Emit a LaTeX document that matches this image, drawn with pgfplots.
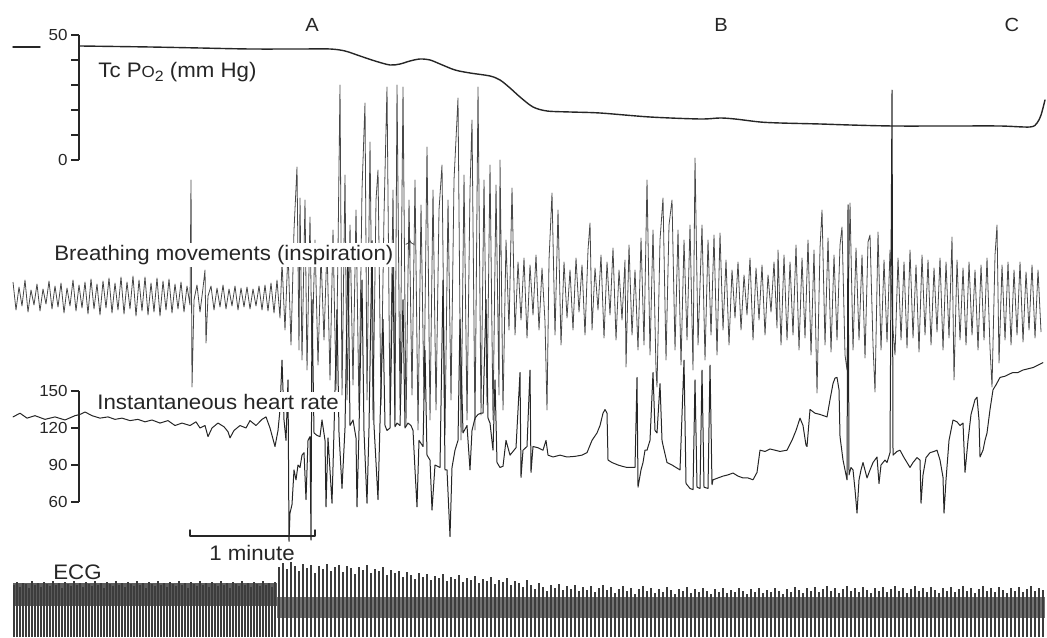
\documentclass[border=0pt]{standalone}
\usepackage{pgfplots}
\pgfplotsset{compat=1.18}
\usepackage{fontspec}
\setmainfont{Liberation Sans}[FakeStretch=1.06]
\definecolor{ink}{gray}{0.15}
\pgfplotsset{
  base/.style={scale only axis, width=523.5pt, height=318.5pt, xmin=0, xmax=1047,
    ymin=0, ymax=637, hide axis, clip=false, at={(0pt,0pt)}, anchor=south west},
  scalebar/.style={scale only axis, width=484pt, xmin=79, xmax=1047, clip=false,
    anchor=south west, axis x line=none, axis y line*=left, tick align=outside,
    major tick length=4pt, axis line style={ink, line width=0.7pt},
    ytick style={ink, line width=0.7pt},
    yticklabel style={font=\fontsize{8}{9}\selectfont, text=ink, inner sep=1.5pt}},
  trace/.style={ink, line join=round, line cap=round}
}
\begin{document}
\begin{tikzpicture}
\useasboundingbox (0,0) rectangle (523.5pt,318.5pt);
% ---------------- ECG (heights above the bottom edge, pixel units)
\begin{axis}[base]
\addplot[fill=ink!75, draw=none] coordinates {(13,31) (277,31) (277,54) (13,54)} -- cycle;
\addplot[fill=ink!65, draw=none] coordinates {(277,19) (1045,19) (1045,40) (277,40)} -- cycle;
\addplot[ycomb, ink!90, line width=0.8pt] coordinates {
(14,52)(17,55)(20,50)(23,54)(26,53)(29,49)(32,56)(35,52)(38,54)(41,50)(44,55)(47,53)(50,51)(53,56)(56,52)(59,54)(62,49)(65,55)(68,53)(71,51)(74,56)(77,52)(80,54)(83,50)(86,55)(89,53)(92,51)(95,56)(98,52)(101,54)(104,49)(107,55)(110,53)(113,51)(116,56)(119,52)(122,54)(125,50)(128,55)(131,53)(134,51)(137,56)(140,52)(143,54)(146,49)(149,55)(152,53)(155,51)(158,56)(161,52)(164,54)(167,50)(170,55)(173,53)(176,51)(179,56)(182,52)(185,54)(188,49)(191,55)(194,53)(197,51)(200,56)(203,52)(206,54)(209,50)(212,55)(215,53)(218,51)(221,56)(224,52)(227,54)(230,49)(233,55)(236,53)(239,51)(242,56)(245,52)(248,54)(251,50)(254,55)(257,53)(260,51)(263,56)(266,52)(269,54)(272,50)(275,55)
(279,70)(283,74)(287,68)(291,75)(295,71)(299,66)(303,73)(307,69)(311,72)(315,64)(319,71)(323,68)(327,73)(331,66)(335,70)(339,72)(343,65)(347,71)(351,69)(355,63)(359,70)(363,67)(367,72)(371,64)(375,68)(379,66)(383,70)(387,62)(391,67)(395,64)(399,66)(403,60)(407,65)(411,62)(415,58)(419,64)(423,60)(427,63)(431,57)(435,61)(439,59)(443,63)(447,56)(451,60)(455,58)(459,62)(463,55)(467,59)(471,57)(475,61)(479,54)(483,58)(487,56)(491,60)(495,53)(499,57)(503,55)(507,59)(511,52)(515,56)(519,54)(523,50)(527,57)(531,52)(535,48)(539,54)(543,50)(547,46)(551,52)(555,49)(559,53)(563,47)(567,51)(571,48)(575,52)(579,46)(583,50)(587,47)(591,51)(595,45)(599,49)(603,52)(607,47)(611,50)(615,44)(619,48)(623,51)(627,46)(631,49)(635,43)(639,48)(643,51)(647,46)(651,49)(655,44)(659,48)(663,45)(667,50)(671,47)(675,43)(679,48)(683,46)(687,50)(691,44)(695,48)(699,45)(703,49)(707,46)(711,43)(715,48)(719,45)(723,49)(727,44)(731,47)(735,45)(739,49)(743,46)(747,43)(751,48)(755,45)(759,49)(763,44)(767,47)(771,45)(775,49)(779,46)(783,43)(787,48)(791,45)(795,50)(799,47)(803,44)(807,49)(811,46)(815,50)(819,45)(823,48)(827,51)(831,46)(835,49)(839,44)(843,48)(847,51)(851,46)(855,49)(859,45)(863,50)(867,47)(871,44)(875,49)(879,46)(883,50)(887,45)(891,48)(895,51)(899,46)(903,49)(907,44)(911,48)(915,51)(919,46)(923,49)(927,45)(931,50)(935,47)(939,44)(943,49)(947,46)(951,50)(955,45)(959,48)(963,51)(967,46)(971,49)(975,44)(979,48)(983,51)(987,46)(991,49)(995,45)(999,50)(1003,47)(1007,44)(1011,49)(1015,46)(1019,50)(1023,45)(1027,48)(1031,51)(1035,46)(1039,49)(1043,47)
};
\end{axis}
% ---------------- Tc PO2 (mm Hg)
\begin{axis}[scalebar, at={(39.5pt,238.5pt)}, height=62.5pt, ymin=0, ymax=50,
  ytick={0,10,20,30,40,50}, yticklabels={0,,,,,50}]
\addplot[trace, line width=0.7pt] coordinates {(13,45.2) (40,45.2)};
\addplot[trace, line width=0.7pt, smooth, tension=0.5] coordinates {
(80,45.6)(150,45.2)(200,44.8)(250,44.4)(300,44.4)(330,44.4)(345,43.6)(360,41.6)(375,39.6)(390,38)(400,38.4)(410,39.6)(420,40.4)(430,40)(440,38.4)(455,36)(470,34.8)(490,33.6)(500,32)(510,28.8)(520,25.2)(533,21.2)(547,19.6)(570,19.2)(600,18.8)(650,17.2)(700,16.4)(720,16.8)(735,16.4)(760,15.2)(780,14.8)(820,14.4)(850,14)(893,13.6)(950,13.6)(1000,13.6)(1030,13.2)(1037,14.8)(1041,18)(1045,24)};
\end{axis}
% ---------------- Breathing movements (pixel rows, top = 0)
\begin{axis}[base, y dir=reverse]
\addplot[ink!85, line join=round, line width=0.4pt] coordinates {
(13,282)(16,310)(19,287)(22,306)(25,280)(28,312)(31,290)(34,305)(37,284)(40,311)(43,289)(46,304)(49,281)(52,309)(55,286)(58,307)(61,283)(64,313)(67,288)(70,306)(73,280)(76,311)(79,285)(82,308)(85,282)(88,314)(91,279)(94,309)(97,284)(100,315)(103,281)(106,308)(109,278)(112,313)(115,283)(118,310)(121,277)(124,314)(127,282)(130,309)(133,276)(136,316)(139,280)(142,311)(145,277)(148,315)(151,283)(154,312)(157,278)(160,316)(163,281)(166,310)(169,279)(172,313)(175,284)(178,309)(181,282)(184,312)(187,286)(190,305)(191,180)(192,387)(194,300)(197,285)(200,312)(203,288)(205,270)(206,343)(208,296)(211,286)(214,310)(217,288)(220,307)(223,285)(226,309)(229,289)(232,306)(235,286)(238,310)(241,288)(244,307)(247,287)(250,309)(253,289)(256,306)(259,286)(262,310)(265,285)(268,311)(271,283)(274,313)(277,280)(280,318)
(282,262)(285,330)(288,250)(291,345)(294,230)(297,167)(299,350)(300,198)(302,360)(305,200)(307,370)(310,217)(312,355)(315,240)(318,365)(321,255)(324,340)(327,245)(330,380)(333,230)(336,390)(338,250)(340,85)(342,395)(345,175)(347,400)(350,225)(353,385)(356,210)(359,410)(362,190)(365,103)(367,400)(370,142)(373,420)(376,200)(378,170)(381,405)(384,215)(387,87)(390,415)(393,190)(395,420)(397,85)(400,410)(403,87)(406,425)(409,200)(412,395)(415,180)(418,430)(421,205)(424,400)(427,147)(430,420)(433,190)(436,410)(439,210)(442,165)(445,435)(448,200)(451,400)(454,180)(458,98)(461,440)(464,175)(467,420)(470,190)(472,120)(475,430)(478,87)(481,415)(484,180)(487,405)(490,165)(493,420)(496,185)(499,395)(500,160)(503,410)(506,240)(509,330)(512,188)(515,335)(518,262)(521,320)(524,258)(527,338)(530,265)(533,315)(536,255)(539,330)(542,268)(545,322)(547,410)(549,260)(552,193)(555,335)(558,210)(561,345)
(564,262)(567,318)(570,270)(573,330)(576,258)(579,312)(582,265)(585,335)(588,250)(590,223)(592,330)(595,268)(598,310)(601,255)(604,338)(607,262)(610,315)(613,248)(616,340)(619,270)(622,320)(625,260)(626,367)(629,245)(632,335)(635,270)(638,350)(641,238)(644,345)(647,180)(650,355)(653,230)(656,370)(657,387)(660,240)(663,198)(666,360)(669,225)(672,200)(675,350)(678,230)(681,365)(684,240)(687,340)(690,225)(693,370)(695,158)(698,345)(702,225)(705,360)(708,240)(711,335)(714,235)(717,355)(720,233)(723,330)(726,260)(729,345)(732,270)(735,318)(738,262)(741,330)(744,275)(747,315)(750,258)(753,340)(756,268)(759,320)(762,265)(765,335)(768,275)(771,312)(774,262)(777,328)(778,250)(781,345)
(784,255)(787,340)(790,262)(793,335)(796,245)(799,350)(802,258)(805,338)(808,240)(811,355)(814,250)(817,393)(820,248)(822,210)(825,345)(828,238)(831,352)(834,255)(837,340)(840,245)(842,227)(845,355)(847,370)(850,203)(853,350)(856,248)(859,340)(862,255)(865,358)(868,242)(870,235)(873,345)(875,392)(878,232)(881,350)(884,260)(887,342)(890,250)(893,330)(895,355)(898,258)(901,340)(904,262)(907,348)(910,250)(913,338)(916,265)(919,352)(922,255)(925,335)(928,260)(931,345)(934,268)(937,332)(940,258)(943,350)(946,262)(949,338)(952,237)(954,380)(957,260)(960,340)(963,268)(966,345)(969,262)(972,335)(975,270)(978,350)(981,265)(984,340)(987,258)(990,348)(992,387)(995,255)(997,225)(999,363)(1002,265)(1005,340)(1008,262)(1011,345)(1014,270)(1017,335)(1020,262)(1023,342)(1026,272)(1029,330)(1032,265)(1035,338)(1038,270)(1041,332)
};
% 1 minute time bar
\addplot[trace, line width=0.7pt] coordinates {(190,530) (190,536) (315,536) (315,530)};
\end{axis}
% ---------------- Instantaneous heart rate (beats/min)
\begin{axis}[scalebar, at={(39.5pt,67.5pt)}, height=55.5pt, ymin=60, ymax=150,
  ytick={60,90,120,150}, yticklabels={60,90,120,150}]
\addplot[trace, line width=0.5pt] coordinates {
(13,129)(20,132)(27,128)(35,130)(45,127)(55,129)(65,126.5)(75,130)(80,131)(85,133)(92,130)(100,128)(108,129)(115,127)(122,128)(130,126)(138,127)(145,125)(152,126.5)(160,124)(168,126)(175,122)(182,124)(190,122)(196,125)(200,120)(205,122)(208,113)(212,120)(218,124)(224,121)(228,117)(230,112)(234,118)(240,122)(246,120)(250,126)(256,122)(262,127)(266,129)(270,120)(275,105)(278,118)(280,135)(282,175)(284,126.5)(286,110)(288,159)(289,28)(290,51)(292,58)(294,86)(296,78)(298,90)(300,88)(302,98)(304,100)(306,62)(308,110)(310,113)(311,29)(312,224)(314,116)(317,114)(320,113)(322,126.5)(325,110)(326,56)(328,112)(332,59)(334,118)(337,216)(339,116)(342,71)(345,120)(348,264)(350,122)(353,126.5)(356,112)(357,56)(359,118)(362,240)(364,117)(367,59)(369,120)(372,272)(374,122)(378,62)(380,124)(383,208)(385,122)(387,118)(390,120)(393,256)(395,121)(397,124)(400,122)(403,224)(405,120)(408,124)(411,122)(413,118)(415,86)(417,56)(419,110)(423,105)(425,183)(427,98)(430,94)(432,53.5)(435,90)(440,88)(443,240)(445,86)(447,86)(450,32)(452,88)(455,102)(458,110)(460,208)(463,116)(467,122)(470,86)(472,118)(475,128)(478,131)(481,132)(483,132)(486,224)(488,128)(490,124)(493,102)(495,159)(497,92)(500,88)(503,89)(506,110)(510,98)(513,101)(516,104)(520,165)(521,80)(523,102)(527,105)(530,167)(531,84)(533,105)(538,104)(543,102)(546,110)(548,98)(553,96.5)(560,98)(567,96.5)(575,97)(582,98)(587,100)(592,110)(597,116)(600,122)(603,132)(605,135)(607,132)(608,94)(612,92)(618,90)(622,89)(627,88)(632,88)(635,88)(637,161)(638,72)(641,86)(643,92)(645,102)(647,102)(650,110)(653,165)(655,118)(657,116)(660,156)(662,110)(663,106)(667,92)(672,90)(676,88)(680,86)(684,175)(686,75)(690,71)(693,70)(695,159)(697,72)(700,71)(702,167)(704,72)(708,71)(710,171)(712,74)(713,78)(718,79.5)(723,81)(728,82)(733,83.5)(738,81)(743,79.5)(748,79.5)(753,78)(757,84)(760,102)(765,101)(770,103)(775,102)(780,101)(787,102)(792,110)(796,118)(800,128)(803,122)(806,106)(807,105)(810,135)(815,132)(820,131)(827,129)(830,143)(833,156)(835,160.5)(837,161)(839,151)(840,113)(843,94)(847,78)(848,301)(849,82)(851,88)(853,86)(855,70)(857,51)(859,78)(861,86)(863,92)(867,79.5)(870,86)(873,92)(877,96.5)(879,75)(881,90)(885,94)(887,92)(890,100)(892,394)(893,98)(897,101)(900,102)(904,96)(907,92)(910,88)(913,92)(917,96)(920,94)(921,59)(923,82)(926,96)(930,100)(934,101)(937,102)(940,94)(943,80)(944,51)(946,78)(949,110)(953,126.5)(957,125)(960,122)(963,124)(965,84)(968,110)(971,131)(973,137)(975,143)(977,145)(979,126.5)(980,96.5)(983,102)(985,110)(987,116)(990,135)(993,151)(996,155)(1000,161)(1005,162)(1010,164)(1013,165)(1018,165)(1023,167)(1028,168)(1033,169)(1038,171)(1043,173)
};
\end{axis}
% ---------------- labels (pixel rows, top = 0)
\begin{axis}[base, y dir=reverse]
\begin{scope}[every node/.style={text=ink, font=\fontsize{10.5}{12}\selectfont, inner sep=1pt}]
\node[anchor=west] at (axis cs:96,72) {Tc P{\fontsize{8}{9}\selectfont O}\raisebox{-0.35ex}{\fontsize{7.5}{8}\selectfont 2} (mm Hg)};
\node[anchor=west, fill=white] at (axis cs:52,255) {Breathing movements (inspiration)};
\node[anchor=west, font=\fontsize{9}{10}\selectfont] at (axis cs:403,248) {$\uparrow$};
\node[anchor=west, fill=white] at (axis cs:95,402) {Instantaneous heart rate};
\node at (axis cs:252,553) {1 minute};
\node[anchor=west] at (axis cs:51,572) {ECG};
\node[font=\fontsize{9.5}{11}\selectfont] at (axis cs:312,25) {A};
\node[font=\fontsize{9.5}{11}\selectfont] at (axis cs:721,25) {B};
\node[font=\fontsize{9.5}{11}\selectfont] at (axis cs:1012,25) {C};
\end{scope}
\end{axis}
\end{tikzpicture}
\end{document}
